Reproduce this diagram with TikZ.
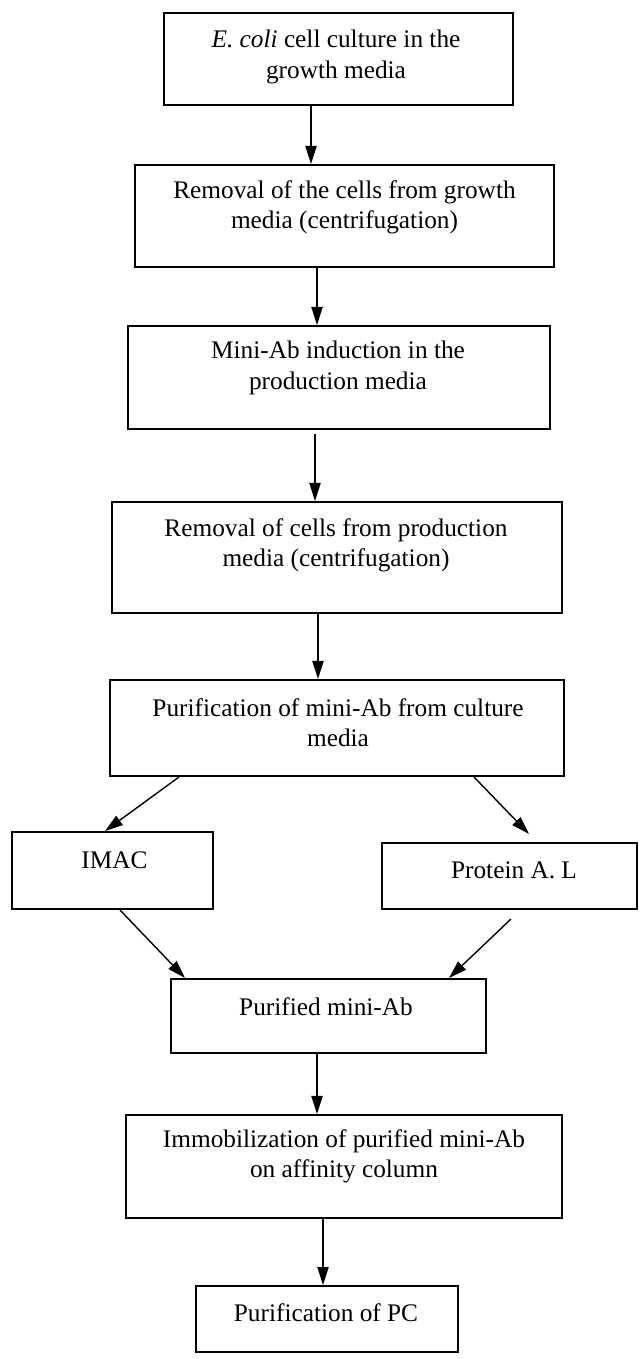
\documentclass[tikz,border=0pt]{standalone}
\usepackage{fontspec}
\setmainfont{Liberation Serif}
\usetikzlibrary{calc,arrows.meta}

\begin{document}
\begin{tikzpicture}[x=0.025cm, y=-0.025cm,
		box/.style={draw, line width=0.5mm, inner sep=0pt},
		txt/.style={align=center, inner sep=0pt, font=\fontsize{18}{21.5}\selectfont},
		arr/.style={line width=0.35mm, -{Triangle[length=0.45cm, width=0.28cm]}}]
			%%%%% START %%%%%
			\useasboundingbox (0, 0) rectangle (639, 1359);
			
			\node[box, minimum width=8.725cm, minimum height=2.3cm] (b1) at (338.5, 59) {};
			\node[txt] (t1) at (336, 57) {\textit{E. coli} cell culture in the\\growth media};
			
			\node[box, minimum width=10.475cm, minimum height=2.55cm] (b2) at (344.5, 216) {};
			\node[txt] (t2) at (344.5, 207) {Removal of the cells from growth\\media (centrifugation)};
			
			\node[box, minimum width=10.55cm, minimum height=2.575cm] (b3) at (339, 377.5) {};
			\node[txt] (t3) at (338, 368) {Mini-Ab induction in the\\production media};
			
			\node[box, minimum width=11.25cm, minimum height=2.775cm] (b4) at (337, 557.5) {};
			\node[txt] (t4) at (336, 545) {Removal of cells from production\\media (centrifugation)};
			
			\node[box, minimum width=11.35cm, minimum height=2.4cm] (b5) at (337, 728) {};
			\node[txt] (t5) at (338, 723) {Purification of mini-Ab from culture\\media};
			
			\node[box, minimum width=5.025cm, minimum height=1.925cm] (imac) at (112.5, 870.5) {};
			\node[txt] (t6) at (114.5, 860) {IMAC};
			
			\node[box, minimum width=6.375cm, minimum height=1.65cm] (prot) at (509.5, 876) {};
			\node[txt] (t7) at (514, 870) {Protein A. L};
			
			\node[box, minimum width=7.875cm, minimum height=1.85cm] (pur) at (328.5, 1016) {};
			\node[txt] (t8) at (326, 1007) {Purified mini-Ab};
			
			\node[box, minimum width=10.9cm, minimum height=2.575cm] (b7) at (344, 1166.5) {};
			\node[txt] (t9) at (344, 1156) {Immobilization of purified mini-Ab\\on affinity column};
			
			\node[box, minimum width=6.55cm, minimum height=1.65cm] (b8) at (327, 1319) {};
			\node[txt] (t10) at (326, 1313) {Purification of PC};
			
			\draw[arr] ($(b1.south)+(-27.5, 0)$) -- ($(b2.north)+(-33.5, 0)$);
			\draw[arr] ($(b2.south)+(-27.5, 0)$) -- ($(b3.north)+(-22, 0)$);
			\draw[arr] ($(b3.south)+(-24, 4)$) -- ($(b4.north)+(-22, 0)$);
			\draw[arr] ($(b4.south)+(-19, 0)$) -- ($(b5.north)+(-19, 0)$);
			
			\draw[arr] ($(b5.south)+(-158, 0)$) -- ($(imac.north)+(-7.5, 0)$);
			\draw[arr] ($(b5.south)+(137, 0)$) -- ($(prot.north)+(19.5, -8)$);
			\draw[arr] ($(imac.south)+(7.5, 0)$) -- ($(pur.north)+(-143.5, 0)$);
			\draw[arr] ($(prot.south)+(1.5, 9)$) -- ($(pur.north)+(120.5, 0)$);
			
			\draw[arr] ($(pur.south)+(-11.5, 0)$) -- ($(b7.north)+(-27, 0)$);
			\draw[arr] ($(b7.south)+(-21, 0)$) -- ($(b8.north)+(-4, 0)$);
			%%%%% END %%%%%
\end{tikzpicture}
\end{document}
